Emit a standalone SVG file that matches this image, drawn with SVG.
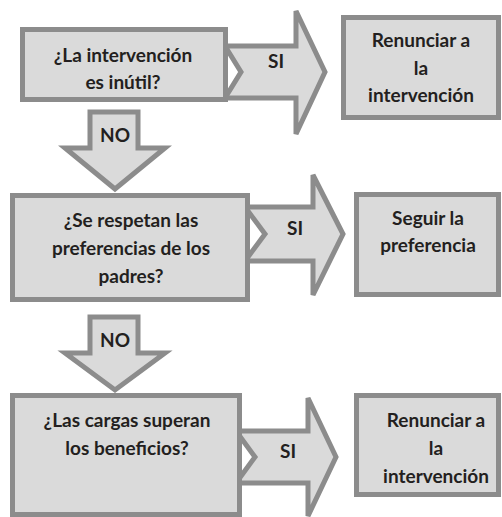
<svg xmlns="http://www.w3.org/2000/svg" width="502" height="517" viewBox="0 0 502 517">
<style>
.s{fill:#dadada;stroke:#8c8c8c;stroke-width:5;stroke-linejoin:miter}
.t{font-family:Lato,"Open Sans","Liberation Sans",sans-serif;font-size:19px;font-weight:bold;fill:#231f20;text-anchor:middle}
</style>
<rect width="502" height="517" fill="#ffffff"/>
<g id="connectors">
<polygon class="s" points="225,46 296,46 296,11 325,72 296,134 296,98 225,98 241,72"/>
<polygon class="s" points="245,207 313,207 313,175 343,234 313,295 313,261 245,261 265,234"/>
<polygon class="s" points="236,431 308,431 308,398 336,457 308,516 308,483 236,483 255,457"/>
<polygon class="s" points="90,112 138,112 138,148 165,148 115,189 65,148 90,148"/>
<polygon class="s" points="90,317 138,317 138,353 165,353 115,390 65,353 90,353"/>
<text class="t" x="276" y="68">SI</text>
<text class="t" x="295" y="235">SI</text>
<text class="t" x="288" y="458">SI</text>
<text class="t" x="115" y="142">NO</text>
<text class="t" x="115" y="347">NO</text>
</g>
<g id="q1">
<rect class="s" x="22.5" y="29.5" width="203" height="70"/>
<text class="t" x="123" y="62">¿La intervención</text>
<text class="t" x="123" y="89">es inútil?</text>
</g>
<g id="r1">
<rect class="s" x="343.5" y="17.5" width="155" height="100"/>
<text class="t" x="421" y="47">Renunciar a</text>
<text class="t" x="421" y="75">la</text>
<text class="t" x="421" y="102">intervención</text>
</g>
<g id="q2">
<rect class="s" x="12.5" y="195.5" width="235" height="104"/>
<text class="t" x="131" y="227">¿Se respetan las</text>
<text class="t" x="131" y="255">preferencias de los</text>
<text class="t" x="131" y="283">padres?</text>
</g>
<g id="r2">
<rect class="s" x="356.5" y="194.5" width="142" height="100"/>
<text class="t" x="428" y="225">Seguir la</text>
<text class="t" x="428" y="252">preferencia</text>
</g>
<g id="q3">
<rect class="s" x="12.5" y="395.5" width="227" height="119"/>
<text class="t" x="127" y="427">¿Las cargas superan</text>
<text class="t" x="127" y="455">los beneficios?</text>
</g>
<g id="r3">
<rect class="s" x="356.5" y="395.5" width="142" height="99"/>
<text class="t" x="436" y="427">Renunciar a</text>
<text class="t" x="436" y="455">la</text>
<text class="t" x="436" y="483">intervención</text>
</g>
</svg>
